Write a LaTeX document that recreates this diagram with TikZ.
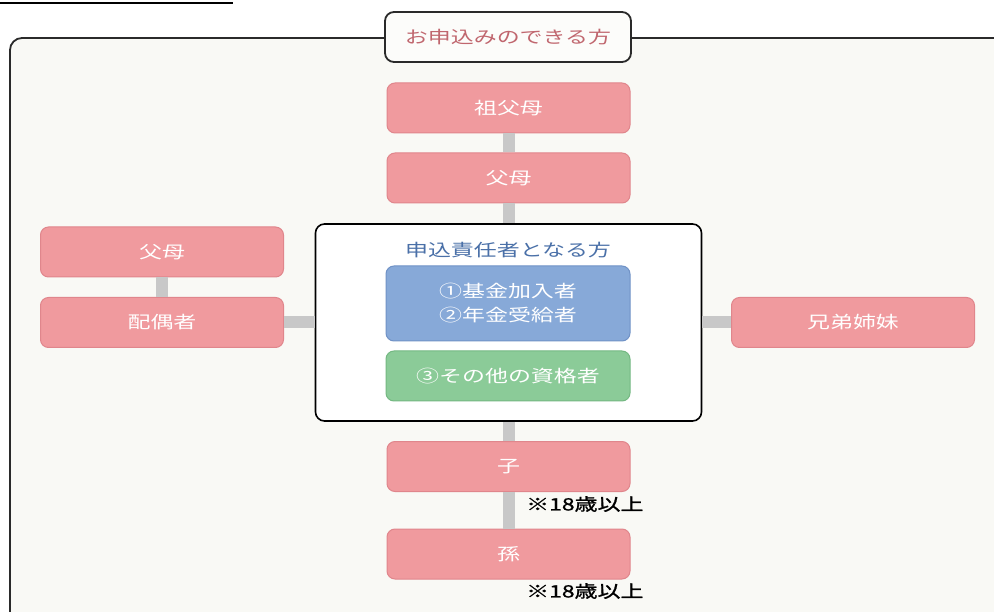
\documentclass[tikz,border=0pt]{standalone}
\usepackage{fontspec}
\newfontfamily\jp[FakeStretch=1.35]{Noto Sans CJK JP}
\newfontfamily\jpnote[FakeStretch=1.35,FakeBold=1.2]{Noto Sans CJK JP}
\definecolor{pinkfill}{HTML}{F09A9E}
\definecolor{pinkline}{HTML}{E0868C}
\definecolor{bluefill}{HTML}{87A9D8}
\definecolor{blueline}{HTML}{7092C6}
\definecolor{greenfill}{HTML}{8BCB98}
\definecolor{greenline}{HTML}{74B882}
\definecolor{bgfill}{HTML}{F9F9F5}
\definecolor{conn}{HTML}{C8C8C8}
\definecolor{titlered}{HTML}{C0666E}
\definecolor{titleblue}{HTML}{4A70A8}
\definecolor{frame}{HTML}{2A2A2A}
\tikzset{
  every node/.style={font=\jp\fontsize{17}{22}\selectfont},
  pinkbox/.style={draw=pinkline, line width=1pt, fill=pinkfill, rounded corners=8pt, minimum width=243pt, minimum height=50pt, text=white, inner sep=0pt},
  conline/.style={draw=conn, line width=12pt},
  note/.style={anchor=west, text=black, font=\jpnote\fontsize{17}{22}\selectfont, inner sep=0pt}
}
\begin{document}
\begin{tikzpicture}[x=1pt,y=-1pt]
\useasboundingbox (0,0) rectangle (994,612);
\clip (0,0) rectangle (994,612);
\fill[white] (0,0) rectangle (994,612);
% top line
\draw[black, line width=2.2pt] (0,3) -- (233,3);
% outer frame
\fill[bgfill, rounded corners=12pt] (10,38) rectangle (1010,640);
\draw[frame, line width=1.8pt, rounded corners=12pt] (390,38) -- (10,38) -- (10,640);
\draw[frame, line width=1.8pt] (625,38) -- (1010,38);
% title
\node[draw=frame, line width=1.8pt, fill=bgfill!50!white, rounded corners=9pt, minimum width=246pt, minimum height=50pt, text=titlered, inner sep=0pt] (title) at (508,37) {お申込みのできる方};
% central box
\node[draw=black, line width=1.6pt, fill=white, rounded corners=9pt, minimum width=386pt, minimum height=197pt, inner sep=0pt] (center) at (508.5,322.5) {};
\node[text=titleblue, inner sep=0pt] (ctitle) at (508,250) {申込責任者となる方};
\node[draw=blueline, line width=1pt, fill=bluefill, rounded corners=8pt, minimum width=244pt, minimum height=75pt, text=white, inner sep=0pt, align=center] (blue) at (508,303.5) {①基金加入者\\[2pt]②年金受給者};
\node[draw=greenline, line width=1pt, fill=greenfill, rounded corners=8pt, minimum width=244pt, minimum height=50pt, text=white, inner sep=0pt] (green) at (508,376) {③その他の資格者};
% pink boxes
\node[pinkbox] (gp) at (508.5,108) {祖父母};
\node[pinkbox] (pa) at (508.5,178) {父母};
\node[pinkbox] (lpa) at (162,252) {父母};
\node[pinkbox] (sp) at (162,322.5) {配偶者};
\node[pinkbox] (sib) at (853,322.5) {兄弟姉妹};
\node[pinkbox] (ch) at (508.5,466.5) {子};
\node[pinkbox] (gc) at (508.5,554) {孫};
% connectors
\draw[conline] (gp.south) -- (pa.north);
\draw[conline] (pa.south) -- (center.north);
\draw[conline] (center.south) -- (ch.north);
\draw[conline] (ch.south) -- (gc.north);
\draw[conline] (lpa.south) -- (sp.north);
\draw[conline] (sp.east) -- (center.west);
\draw[conline] (center.east) -- (sib.west);
% notes
\node[note] (n1) at (526,504) {※18歳以上};
\node[note] (n2) at (526,591) {※18歳以上};
\end{tikzpicture}
\end{document}
